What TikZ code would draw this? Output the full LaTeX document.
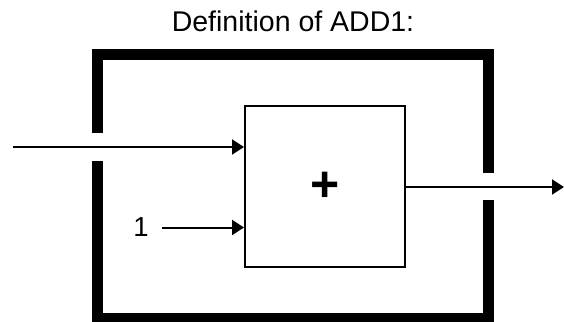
\documentclass[tikz,border=0pt]{standalone}
\usepackage{fontspec}
\setmainfont{Liberation Sans}
\usetikzlibrary{arrows.meta,positioning,calc}

\begin{document}
\begin{tikzpicture}[x=1pt, y=-1pt,
    every node/.style={font=\fontsize{27.5}{33}\selectfont},
    arr/.style={line width=2pt, -{Triangle[length=12pt,width=15pt]}},
    frame/.style={line width=11.5pt, line cap=butt, line join=miter}]
  \useasboundingbox (0,0) rectangle (564,321);
  % title
  \node[anchor=base, font=\fontsize{28.5}{34}\selectfont] (title) at (293,32) {Definition of ADD1:};
  % outer frame with its two openings
  \draw[frame] (97.5,133) |- (488.5,54.5) -- (488.5,173);
  \draw[frame] (488.5,200) |- (97.5,318.5) -- (97.5,161);
  % adder
  \node[draw, line width=2pt, minimum width=160pt, minimum height=161pt,
        font=\fontsize{50}{60}\selectfont\bfseries] (add) at (325,186.5) {+};
  \node (one) at (141,227.5) {1};
  \coordinate (in) at (13,147);
  \coordinate (out) at (564,187);
  % wires
  \draw[arr] (in) -- (in -| add.west);
  \draw[arr] ([xshift=10pt]one.east) -- (one -| add.west);
  \draw[arr] (add.east |- out) -- (out);
\end{tikzpicture}
\end{document}
